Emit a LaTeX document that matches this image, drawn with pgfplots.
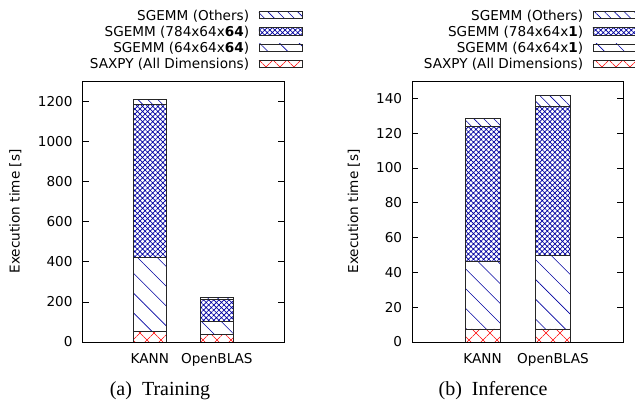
\documentclass[border=0pt]{standalone}
\usepackage{fontspec}
\setmainfont{DejaVu Sans}[Scale=1.36]
\newfontfamily\capfont{Liberation Serif}
\usepackage{pgfplots}
\pgfplotsset{compat=1.18}
\usetikzlibrary{patterns.meta}
\definecolor{pblue}{RGB}{0,0,160}
\definecolor{pred}{RGB}{255,0,0}
\pgfplotsset{
  mylegend/.style={legend image code/.code={
    \draw[##1] (0pt,-3.65pt) rectangle (43pt,3.65pt);}},
  others/.style={draw=black!85, line width=0.7pt, pattern={Lines[angle=-45,distance=7pt,line width=0.6pt]}, pattern color=pblue, mylegend},
  big/.style={draw=black!85, line width=0.7pt, pattern={Hatch[angle=45,distance=3.6pt,line width=0.7pt]}, pattern color=pblue, mylegend},
  small/.style={draw=black!85, line width=0.7pt, pattern={Lines[angle=-45,distance=14pt,line width=0.6pt]}, pattern color=pblue, mylegend},
  saxpy/.style={draw=black!85, line width=0.7pt, pattern={Hatch[angle=45,distance=9.9pt,line width=0.6pt]}, pattern color=pred, mylegend},
  common/.style={
    scale only axis, anchor=south west,
    height=261pt,
    ybar stacked, bar width=0.5,
    xmin=-1, xmax=2, ymin=0,
    enlarge x limits=false, enlarge y limits=false,
    xtick={0,1}, xticklabels={KANN,OpenBLAS},
    x tick style={draw=none},
    tick align=inside, ytick pos=both,
    major tick length=6pt,
    major tick style={line width=0.6pt, black},
    axis line style={line width=0.8pt},
    /pgf/number format/assume math mode=true,
    /pgf/number format/1000 sep={},
    yticklabel style={inner sep=0pt, xshift=-10pt},
    xticklabel style={inner sep=0pt, yshift=-11.3pt},
    ylabel={Execution time [s]},
    ylabel style={anchor=center, inner sep=0pt},
    reverse legend,
    legend cell align=right,
    legend plot pos=right,
    legend style={draw=none, fill=none, inner sep=0pt, outer sep=0pt, anchor=north east,
      row sep=6.3pt,
      /tikz/every odd column/.append style={column sep=9.5pt},
      nodes={inner sep=0pt, text height=10pt, text depth=0pt}},
  }
}
\begin{document}
\begin{tikzpicture}
\useasboundingbox (0,0) rectangle (635pt,417pt);
\begin{axis}[common, at={(82.7pt,75pt)}, width=201.3pt,
  ymax=1300, ytick={0,200,400,600,800,1000,1200},
  ylabel style={at={(axis description cs:-0.335,0.5)}},
  legend style={at={(axis description cs:1.0909,1.272)}}]
\addplot[saxpy] coordinates {(0,53) (1,38)};
\addlegendentry{SAXPY (All Dimensions)}
\addplot[small] coordinates {(0,370) (1,63.5)};
\addlegendentry{SGEMM (64x64x\textbf{64})}
\addplot[big] coordinates {(0,759) (1,108.5)};
\addlegendentry{SGEMM (784x64x\textbf{64})}
\addplot[others] coordinates {(0,28) (1,10)};
\addlegendentry{SGEMM (Others)}
\end{axis}
\begin{axis}[common, at={(412.3pt,75pt)}, width=211pt,
  ymax=150, ytick={0,20,40,60,80,100,120,140},
  ylabel style={at={(axis description cs:-0.277,0.5)}},
  legend style={at={(axis description cs:1.0616,1.272)}}]
\addplot[saxpy] coordinates {(0,7.5) (1,7.5)};
\addlegendentry{SAXPY (All Dimensions)}
\addplot[small] coordinates {(0,38.6) (1,42.4)};
\addlegendentry{SGEMM (64x64x\textbf{1})}
\addplot[big] coordinates {(0,77.6) (1,85.3)};
\addlegendentry{SGEMM (784x64x\textbf{1})}
\addplot[others] coordinates {(0,5) (1,6.7)};
\addlegendentry{SGEMM (Others)}
\end{axis}
\node[font=\capfont\fontsize{20}{24}\selectfont, inner sep=0pt] at (160pt,26pt) {(a)~~Training};
\node[font=\capfont\fontsize{20}{24}\selectfont, inner sep=0pt] at (493pt,26pt) {(b)~~Inference};
\end{tikzpicture}
\end{document}
